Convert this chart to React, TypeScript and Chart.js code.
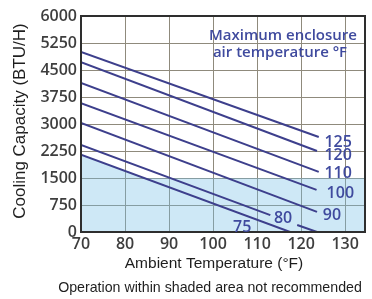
import React, { useEffect, useRef } from "react";
import { Chart, registerables } from "chart.js";

Chart.register(...registerables);

// Maximum enclosure air temperature (°F) for each curve
const enclosureTemps = ["125", "120", "110", "100", "90", "80", "75"];

// Curves: ambient temperature (°F) vs cooling capacity (BTU/H)
const ambient125 = [70, 124];
const capacity125 = [5000, 2640];
const ambient120 = [70, 123.6];
const capacity120 = [4720, 2250];
const ambient110 = [70, 124];
const capacity110 = [4140, 1670];
const ambient100 = [70, 123.5];
const capacity100 = [3580, 1170];
const ambient90 = [70, 123.6];
const capacity90 = [3030, 560];
const ambient80 = [70, 113, 116, 119.1, 123.6];
const capacity80 = [2420, 470, null, 195, 0];
const ambient75 = [70, 117.5];
const capacity75 = [2150, 0];

// Shaded "not recommended" region
const shadeAmbient = [70, 84.5, 134.5];
const shadeCapacity = [2150, 1500, 1500];

// Curve label anchors (data coordinates)
const labelAmbient = [128.4, 128.4, 128.4, 128.9, 127.0, 115.9, 106.6];
const labelCapacity = [2500, 2140, 1640, 1080, 470, 390, 140];

// Axes
const xMin = 70;
const xMax = 134.5;
const xStep = 10;
const yMin = 0;
const yMax = 6000;
const yStep = 750;

const xTitle = "Ambient Temperature (°F)";
const noteText = "Operation within shaded area not recommended";
const yTitle = "Cooling Capacity (BTU/H)";
const boxText = ["Maximum enclosure", "air temperature °F"];

const LINE = "#3d3f8c";
const LABEL = "#3f4a9e";

const pts = (xs: number[], ys: (number | null)[]) =>
  xs.map((x, i) => ({ x, y: ys[i] }));

export default function App() {
  const ref = useRef<HTMLCanvasElement | null>(null);

  useEffect(() => {
    const canvas = ref.current;
    if (!canvas) return;

    const series = [
      pts(ambient125, capacity125),
      pts(ambient120, capacity120),
      pts(ambient110, capacity110),
      pts(ambient100, capacity100),
      pts(ambient90, capacity90),
      pts(ambient80, capacity80),
      pts(ambient75, capacity75),
    ];

    const textPlugin = {
      id: "annotations",
      afterDatasetsDraw(chart: any) {
        const { ctx, chartArea, scales } = chart;
        const xs = scales.x;
        const ys = scales.y;
        ctx.save();
        // plot border
        ctx.strokeStyle = "#2e2e2e";
        ctx.lineWidth = 2;
        ctx.strokeRect(
          chartArea.left,
          chartArea.top,
          chartArea.right - chartArea.left,
          chartArea.bottom - chartArea.top
        );
        // curve labels
        ctx.fillStyle = LABEL;
        ctx.font = "600 16px 'Open Sans'";
        ctx.textAlign = "center";
        ctx.textBaseline = "middle";
        enclosureTemps.forEach((t, i) => {
          ctx.fillText(
            t,
            xs.getPixelForValue(labelAmbient[i]),
            ys.getPixelForValue(labelCapacity[i])
          );
        });
        // box text
        ctx.font = "600 15px 'Open Sans'";
        ctx.fillText(boxText[0], 283, 36);
        ctx.fillText(boxText[1], 280, 53);
        // axis titles
        ctx.fillStyle = "#1e1e1e";
        ctx.font = "15.5px 'Liberation Sans'";
        ctx.fillText(xTitle, 214, 264);
        ctx.font = "14.2px 'Liberation Sans'";
        ctx.fillText(noteText, 210, 288);
        ctx.save();
        ctx.translate(20, 121);
        ctx.rotate(-Math.PI / 2);
        ctx.font = "17px 'Liberation Sans'";
        ctx.fillText(yTitle, 0, 0);
        ctx.restore();
        ctx.restore();
      },
    };

    const chart = new Chart(canvas, {
      type: "line",
      data: {
        datasets: [
          {
            label: "shade",
            data: pts(shadeAmbient, shadeCapacity),
            borderWidth: 0,
            borderColor: "rgba(0,0,0,0)",
            backgroundColor: "rgba(120,190,230,0.36)",
            fill: "origin",
            pointRadius: 0,
            order: 10,
          },
          ...series.map((d, i) => ({
            label: enclosureTemps[i],
            data: d,
            borderColor: LINE,
            borderWidth: 2,
            pointRadius: 0,
            fill: false,
            spanGaps: false,
            order: 0,
          })),
        ],
      },
      options: {
        responsive: false,
        animation: false,
        events: [],
        layout: { padding: { top: 16, right: 7, left: 0, bottom: 0 } },
        plugins: {
          legend: { display: false },
          tooltip: { enabled: false },
          title: { display: false },
        },
        scales: {
          x: {
            type: "linear",
            min: xMin,
            max: xMax,
            ticks: {
              stepSize: xStep,
              includeBounds: false,
              color: "#3e3e3e",
              font: { family: "'Open Sans'", size: 16, weight: "600" },
              padding: 3,
              maxRotation: 0,
              callback: (v: any) => String(v),
            },
            grid: { color: "#8f8a7c", lineWidth: 1, drawTicks: false },
            border: { display: false },
            afterFit: (s: any) => {
              s.height = 67;
            },
          },
          y: {
            type: "linear",
            min: yMin,
            max: yMax,
            ticks: {
              stepSize: yStep,
              color: "#3e3e3e",
              font: { family: "'Open Sans'", size: 16, weight: "600" },
              padding: 4,
              callback: (v: any) => String(v),
            },
            grid: { color: "#8f8a7c", lineWidth: 1, drawTicks: false },
            border: { display: false },
            afterFit: (s: any) => {
              s.width = 81;
            },
          },
        },
      },
      plugins: [textPlugin],
    });

    return () => chart.destroy();
  }, []);

  return (
    <div style={{ position: "absolute", left: 0, top: 0, width: 372, height: 299, background: "#fff" }}>
      <canvas ref={ref} width={372} height={299} />
    </div>
  );
}
